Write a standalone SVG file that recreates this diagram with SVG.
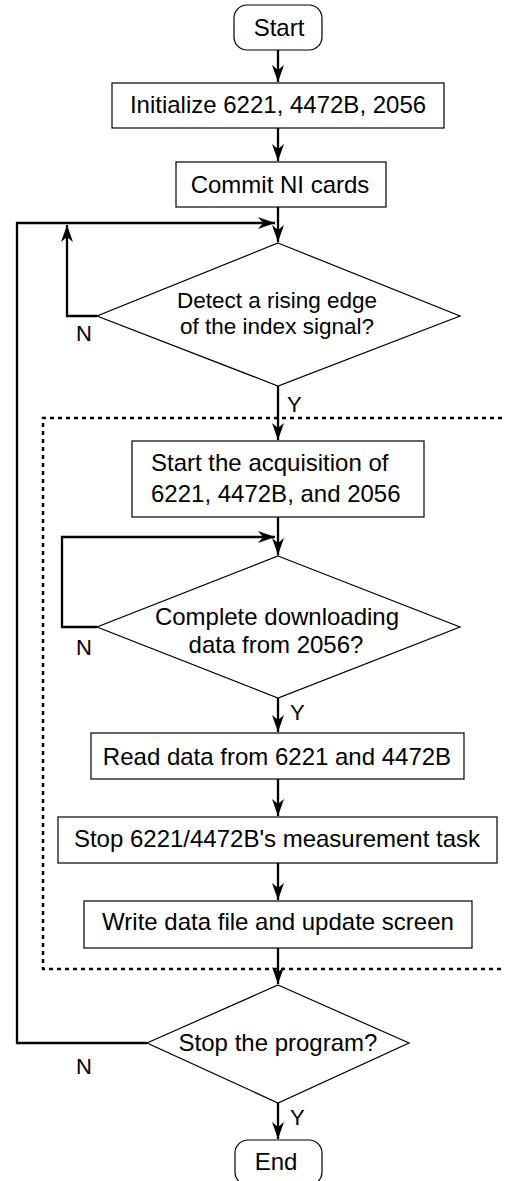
<svg xmlns="http://www.w3.org/2000/svg" width="505" height="1181" viewBox="0 0 505 1181">
<style>
.box{fill:#fff;stroke:#000;stroke-width:1.2}
.t{font-family:"Liberation Sans",Arial,sans-serif;font-size:24px;fill:#000;text-anchor:middle}
.d{font-family:"Liberation Sans",Arial,sans-serif;font-size:22.5px;fill:#000;text-anchor:middle}
.l{font-family:"Liberation Sans",Arial,sans-serif;font-size:22px;fill:#000}
.c{fill:none;stroke:#000;stroke-width:2.3}
.dot{fill:none;stroke:#000;stroke-width:2.5;stroke-dasharray:4 4}
</style>
<defs>
<marker id="ah" viewBox="-18 -7 19 14" refX="0" refY="0" markerWidth="19" markerHeight="14" markerUnits="userSpaceOnUse" orient="auto">
<path d="M0,0 L-17,-6 L-12,0 L-17,6 Z" fill="#000"/>
</marker>
</defs>
<rect width="505" height="1181" fill="#fff"/>
<g id="group-box">
<path class="dot" d="M510,418 H43 V969 H510"/>
</g>
<g id="connectors">
<path class="c" d="M278,50 V82" marker-end="url(#ah)"/>
<path class="c" d="M278,128 V161" marker-end="url(#ah)"/>
<path class="c" d="M278,207 V242" marker-end="url(#ah)"/>
<path class="c" d="M97,316 H67 V225" marker-end="url(#ah)"/>
<path class="c" d="M147,1043 H17 V223 H275" marker-end="url(#ah)"/>
<path class="c" d="M278,386 V440" marker-end="url(#ah)"/>
<path class="c" d="M278,517 V555" marker-end="url(#ah)"/>
<path class="c" d="M97,627 H62 V537 H275" marker-end="url(#ah)"/>
<path class="c" d="M278,698 V732" marker-end="url(#ah)"/>
<path class="c" d="M278,779 V816" marker-end="url(#ah)"/>
<path class="c" d="M278,863 V900" marker-end="url(#ah)"/>
<path class="c" d="M278,948 V984" marker-end="url(#ah)"/>
<path class="c" d="M278,1103 V1139" marker-end="url(#ah)"/>
<text class="l" x="76" y="341">N</text>
<text class="l" x="287" y="412">Y</text>
<text class="l" x="76" y="655">N</text>
<text class="l" x="290" y="720">Y</text>
<text class="l" x="76" y="1074">N</text>
<text class="l" x="290" y="1125">Y</text>
</g>
<g id="start">
<rect class="box" x="234" y="5" width="88" height="45" rx="13"/>
<text class="t" x="279" y="36">Start</text>
</g>
<g id="init">
<rect class="box" x="112" y="83" width="332" height="45"/>
<text class="t" x="278" y="113">Initialize 6221, 4472B, 2056</text>
</g>
<g id="commit">
<rect class="box" x="176" y="162" width="210" height="45"/>
<text class="t" x="280" y="193">Commit NI cards</text>
</g>
<g id="detect">
<polygon class="box" points="278,243 460,316 278,386 97,316"/>
<text class="d" x="277" y="308">Detect a rising edge</text>
<text class="d" x="277" y="334">of the index signal?</text>
</g>
<g id="acquire">
<rect class="box" x="132" y="441" width="292" height="76"/>
<text class="t" x="151" y="471" style="text-anchor:start">Start the acquisition of</text>
<text class="t" x="151" y="502" style="text-anchor:start">6221, 4472B, and 2056</text>
</g>
<g id="download">
<polygon class="box" points="278,556 460,627 278,698 97,627"/>
<text class="t" x="277" y="625">Complete downloading</text>
<text class="t" x="276" y="653">data from 2056?</text>
</g>
<g id="read">
<rect class="box" x="91" y="733" width="373" height="46"/>
<text class="t" x="277" y="765">Read data from 6221 and 4472B</text>
</g>
<g id="stop-task">
<rect class="box" x="58" y="817" width="439" height="46"/>
<text class="t" x="277" y="847">Stop 6221/4472B's measurement task</text>
</g>
<g id="write">
<rect class="box" x="84" y="901" width="388" height="47"/>
<text class="t" x="278" y="930">Write data file and update screen</text>
</g>
<g id="stop-program">
<polygon class="box" points="278,985 409,1043 278,1103 147,1043"/>
<text class="t" x="278" y="1051">Stop the program?</text>
</g>
<g id="end">
<rect class="box" x="235" y="1140" width="87" height="45" rx="13"/>
<text class="t" x="276" y="1170">End</text>
</g>
</svg>
